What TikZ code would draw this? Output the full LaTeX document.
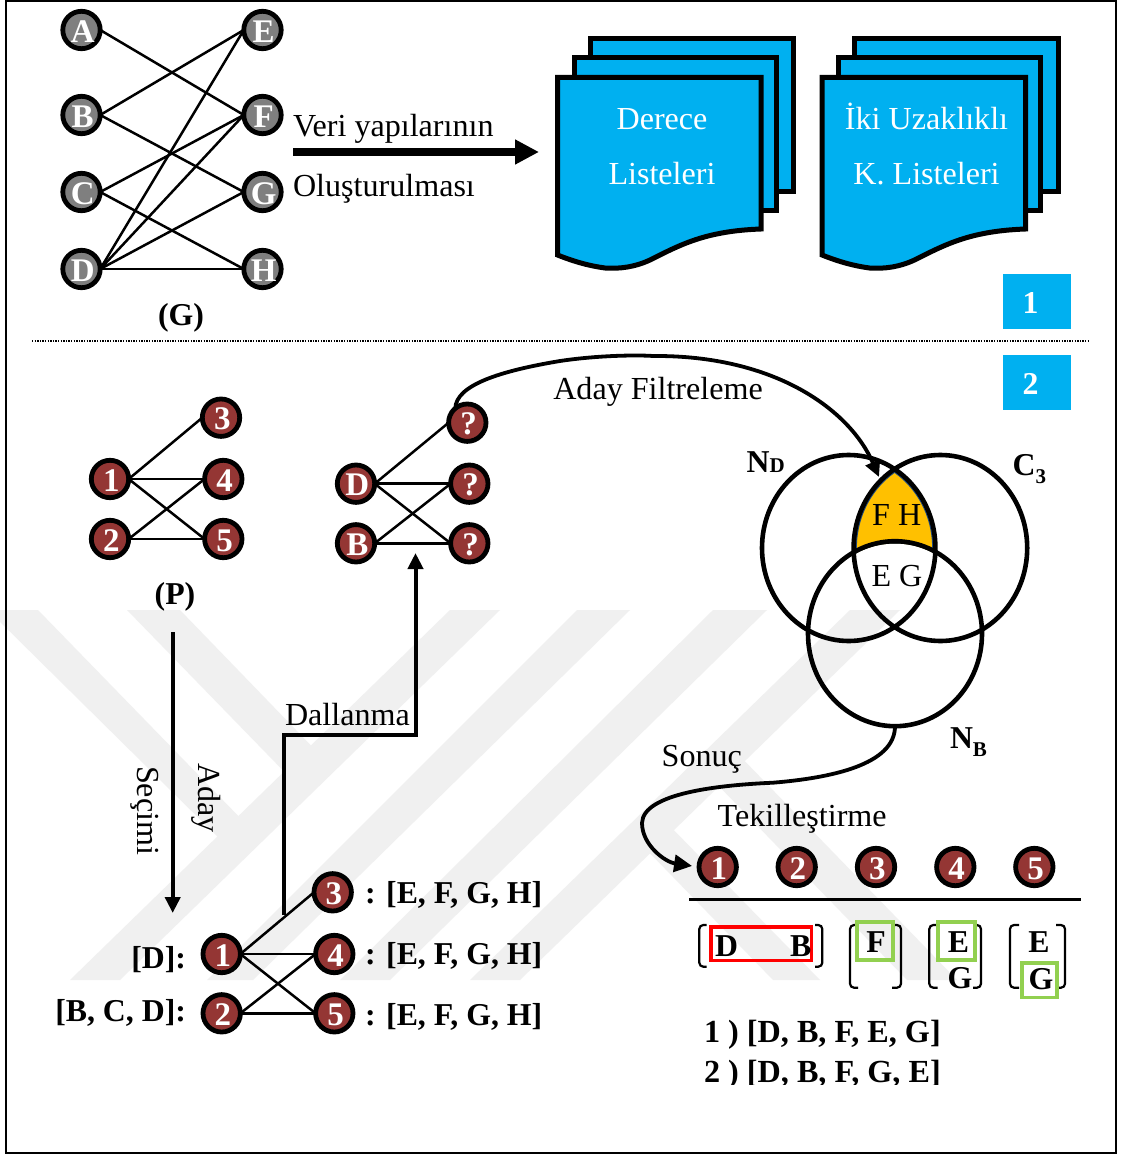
\documentclass[tikz,border=0pt]{standalone}
\usepackage{fontspec}
\setmainfont{Liberation Serif}
\usetikzlibrary{arrows.meta,shapes.geometric}
\definecolor{wm}{HTML}{F0F0F0}
\definecolor{docblue}{HTML}{00B0F0}
\definecolor{nodered}{HTML}{943634}
\definecolor{nodegray}{HTML}{7F7F7F}
\definecolor{orangefill}{HTML}{FFC000}
\definecolor{edgeblue}{HTML}{1F497D}
\definecolor{boxgreen}{HTML}{92D050}
\newcommand{\regf}{\fontsize{32.1}{36}\selectfont}
\newcommand{\bldf}{\fontsize{31.8}{36}\selectfont\bfseries}
\newcommand{\bldg}{\fontsize{32.2}{36}\selectfont\bfseries}
\tikzset{
  x=1pt,y=-1pt,
  vertex/.style={circle,draw=black,line width=4.8pt,minimum size=37.4pt,inner sep=0pt,outer sep=0pt,text=white,font=\fontsize{33}{34}\selectfont\bfseries,text height=24.5pt,text depth=0pt,execute at begin node={\hspace*{2.5pt}}},
  gv/.style={vertex,fill=nodegray},
  rv/.style={vertex,fill=nodered},
  gline/.style={draw=black,line width=2.5pt},
  flow/.style={draw=black,line width=3.8pt},
  head/.style={-{Triangle[length=16pt,width=15pt]}},
  txt/.style={inner sep=0pt,outer sep=0pt,anchor=base west,font=\regf},
  ctxt/.style={inner sep=0pt,outer sep=0pt,anchor=base,font=\regf},
  btxt/.style={inner sep=0pt,outer sep=0pt,anchor=base west,font=\bldf},
  bctxt/.style={inner sep=0pt,outer sep=0pt,anchor=base,font=\bldf},
  etxt/.style={inner sep=0pt,outer sep=0pt,anchor=base east,font=\bldf},
  doc/.style={draw=black,line width=5pt,fill=docblue,line join=miter},
  tag/.style={fill=docblue,inner sep=0pt,outer sep=0pt,minimum width=68pt,minimum height=55pt},
  venn/.style={ellipse,draw=black,line width=4.6pt,inner sep=0pt,outer sep=0pt},
  brk/.style={draw=black,line width=2.2pt,rounded corners=4pt},
  gbox/.style={draw=boxgreen,line width=3.8pt},
}
\begin{document}
\begin{tikzpicture}
\useasboundingbox (0,0) rectangle (1120,1155);
\fill[white] (0,0) rectangle (1120,1155);
% watermark
\begin{scope}
\clip (0,0) rectangle (1120,1155);
\foreach \a/\b/\c/\d in {450/500/120/70, 577/630/253/207, 713/767/390/340, 850/900/520/470}
  \fill[wm] (\a,610) -- (\b,610) -- (\c,980) -- (\d,980) -- cycle;
\fill[wm] (-12,610) -- (38,610) -- (250,828) -- (232,851) -- cycle;
\fill[wm] (127,610) -- (180,610) -- (325,760) -- (302,790) -- cycle;
\fill[wm] (820,980) -- (773,980) -- (640,843) -- (664,820) -- cycle;
\fill[wm] (957,980) -- (907,980) -- (709,776) -- (735,751) -- cycle;
\end{scope}
% frame
\draw[black,line width=2.2pt] (6,1) rectangle (1116,1153);
% graph G
\node[gv] (A) at (81.5,30) {A};
\node[gv] (B) at (81.5,115) {B};
\node[gv] (C) at (81.5,192) {C};
\node[gv] (D) at (81.5,269) {D};
\node[gv] (E) at (262.5,30) {E};
\node[gv] (F) at (262.5,115) {F};
\node[gv] (G) at (262.5,192) {G};
\node[gv] (H) at (262.5,269) {H};
\foreach \p/\q in {A/F,B/E,B/G,C/F,C/H,D/E,D/F,D/G,D/H}
  \draw[gline] (\p.east) -- (\q.west);
\node[bctxt] (gl) at (181,325.5) {(G)};
% big arrow
\coordinate (bs) at (293,152);
\coordinate (be) at (539,152);
\draw[black,line width=7.5pt,-{Triangle[length=24pt,width=23.5pt]}] (bs) -- (be);
\node[txt] (v1) at (293,137) {Veri yapılarının};
\node[txt] (v2) at (293,197) {Oluşturulması};
% documents
\foreach \s in {0,264.5}{
\begin{scope}[xshift=\s pt]
\draw[doc] (590,38.5) rectangle (793.5,191.5);
\draw[doc] (574,58) rectangle (776,210.6);
\draw[doc] (557.5,77.5) -- (761,77.5) -- (761,229) .. controls (705,231) and (680,245) .. (650,260) .. controls (635,267) and (620,269) .. (605,268) .. controls (590,266) and (575,262) .. (557.5,255) -- cycle;
\end{scope}}
\node[ctxt,text=white] (d1) at (662,130) {Derece};
\node[ctxt,text=white] (d2) at (662,185) {Listeleri};
\node[ctxt,text=white] (d3) at (926.5,130) {İki Uzaklıklı};
\node[ctxt,text=white] (d4) at (926.5,185) {K. Listeleri};
% tags
\node[tag] (t1) at (1037,301.5) {};
\node[tag] (t2) at (1037,382.5) {};
\node[bctxt,text=white] (t1l) at (1030.5,313.5) {1};
\node[bctxt,text=white] (t2l) at (1030.5,394.5) {2};
% dotted separator
\coordinate (s1) at (32,341);
\coordinate (s2) at (1088,341);
\draw[black,line width=1.3pt,dash pattern=on 1.3pt off 1.3pt] (s1) -- (s2);
% P
\node[rv] (p3) at (221,417.7) {3};
\node[rv] (p1) at (110,479) {1};
\node[rv] (p4) at (223.3,479) {4};
\node[rv] (p2) at (110,539) {2};
\node[rv] (p5) at (223.3,539) {5};
\foreach \p/\q in {p1/p3,p1/p4,p1/p5,p2/p4,p2/p5}
  \draw[gline] (\p.east) -- (\q.west);
\node[bctxt] (pl) at (175,604.5) {(P)};
% D/B
\node[rv] (qd) at (356,483.7) {D};
\node[rv] (qb) at (356,543.3) {B};
\node[rv] (q1) at (467.3,422.7) {?};
\node[rv] (q2) at (469.3,483.7) {?};
\node[rv] (q3) at (469.3,543.3) {?};
\foreach \p/\q in {qd/q1,qd/q2,qd/q3,qb/q2,qb/q3}
  \draw[gline] (\p.east) -- (\q.west);
% lower graph
\node[rv] (l3) at (332.7,892.3) {3};
\node[rv] (l1) at (221.7,954) {1};
\node[rv] (l4) at (334.3,954) {4};
\node[rv] (l2) at (221.7,1013.3) {2};
\node[rv] (l5) at (334.3,1013.3) {5};
\foreach \p/\q in {l1/l3,l1/l4,l1/l5,l2/l4,l2/l5}
  \draw[gline] (\p.east) -- (\q.west);
\node[etxt] (ld) at (186,968) {[D]:};
\node[etxt] (lb) at (186,1021) {[B, C, D]:};
\node[btxt] (r3) at (365,903) {: [E, F, G, H]};
\node[btxt] (r4) at (365,964) {: [E, F, G, H]};
\node[btxt] (r5) at (365,1025) {: [E, F, G, H]};
% Aday Secimi arrow
\coordinate (as) at (172.7,632);
\coordinate (ae) at (172.7,913);
\draw[black,line width=4pt,head] (as) -- (ae);
\node[txt,rotate=-90] (a1) at (198,763) {Aday};
\node[txt,rotate=-90] (a2) at (137.5,766) {Seçimi};
% Dallanma
\coordinate (ds) at (284,915);
\coordinate (de) at (415.5,553);
\draw[black,line width=4pt,head] (ds) -- (284,735) -- (415.5,735) -- (de);
\node[txt] (dl) at (285,725) {Dallanma};
% Venn fill
\begin{scope}
\clip (848.7,548) ellipse [x radius=86.7pt,y radius=93pt];
\clip (940.4,548) ellipse [x radius=86.8pt,y radius=93pt];
\clip (800,440) -- (990,440) -- (990,636) -- (982,636) arc[start angle=0,end angle=180,x radius=87pt,y radius=92.5pt] -- (800,636) -- cycle;
\fill[orangefill] (800,440) rectangle (990,640);
\draw[edgeblue,line width=6.5pt] (848.7,548) ellipse [x radius=86.7pt,y radius=93pt];
\draw[edgeblue,line width=6.5pt] (940.4,548) ellipse [x radius=86.8pt,y radius=93pt];
\draw[edgeblue,line width=3pt] (895,636) ellipse [x radius=87pt,y radius=92.5pt];
\end{scope}
\node[venn,minimum width=173.4pt,minimum height=186pt] (nd) at (848.7,548) {};
\node[venn,minimum width=173.6pt,minimum height=186pt] (c3) at (940.4,548) {};
\node[venn,minimum width=174pt,minimum height=185pt] (nb) at (895,633.7) {};
\node[ctxt] (fh) at (896.7,525) {F H};
\node[ctxt] (eg) at (897,586.5) {E G};
\node[btxt] (ndl) at (746.7,472.3) {N{\fontsize{21}{24}\selectfont D}};
\node[btxt] (c3l) at (1012.7,475) {C{\raisebox{-8pt}{\fontsize{21}{24}\selectfont 3}}};
\node[btxt] (nbl) at (950,748.3) {N{\raisebox{-8pt}{\fontsize{21}{24}\selectfont B}}};
% Aday Filtreleme curve
\coordinate (ft) at (879,477);
\draw[flow,head] (q1.130) .. controls (456,385) and (500,371) .. (560,361) .. controls (600,355) and (640,355) .. (653,356) .. controls (775,355) and (850,410) .. (ft);
\node[txt] (fl) at (553.3,399.3) {Aday Filtreleme};
% result row
\node[rv] (n1) at (717.7,867) {1};
\node[rv] (n2) at (796.7,867) {2};
\node[rv] (n3) at (876,867) {3};
\node[rv] (n4) at (955.3,867) {4};
\node[rv] (n5) at (1034.3,867) {5};
\draw[flow,-{Triangle[length=18pt,width=17pt]},shorten >=7pt] (nb.south) .. controls (895,765) and (830,778) .. (773,782.7) .. controls (720,785) and (643,793) .. (642,823) .. controls (642,845) and (665,862) .. (n1.west);
\node[txt] (so) at (661.7,766) {Sonuç};
\node[txt] (te) at (717.7,826.5) {Tekilleştirme};
\coordinate (h1) at (689,899);
\coordinate (h2) at (1080.7,899);
\draw[black,line width=3pt] (h1) -- (h2);
% brackets
\draw[brk] (706.7,925) -- (699.3,925) -- (699.3,966.7) -- (706.7,966.7);
\draw[brk] (815,925) -- (822.3,925) -- (822.3,966.7) -- (815,966.7);
\draw[brk] (858,925) -- (850,925) -- (850,987.7) -- (858,987.7);
\draw[brk] (892,925) -- (901,925) -- (901,987.7) -- (892,987.7);
\draw[brk] (937.7,925) -- (929.3,925) -- (929.3,987.7) -- (937.7,987.7);
\draw[brk] (973,925) -- (981,925) -- (981,987.7) -- (973,987.7);
\draw[brk] (1019,925) -- (1010,925) -- (1010,987.7) -- (1019,987.7);
\draw[brk] (1056,925) -- (1065,925) -- (1065,987.7) -- (1056,987.7);
% highlight boxes
\draw[red,line width=3.8pt] (710.7,926.7) rectangle (811.5,960.5);
\draw[gbox] (857,922) rectangle (893,960);
\draw[gbox] (938,922) rectangle (975,960);
\draw[gbox] (1022,963) rectangle (1057,997.5);
% bracket contents
\node[btxt] (m1) at (715,956.5) {D};
\node[btxt] (m2) at (790,956.5) {B};
\node[bctxt] (m3) at (876,952.8) {F};
\node[bctxt] (m4) at (958.5,952.8) {E};
\node[bctxt] (m5) at (960,988) {G};
\node[bctxt] (m6) at (1039,952.5) {E};
\node[bctxt] (m7) at (1041,989.5) {G};
% results
\node[btxt,font=\bldg] (o1) at (704,1042) {1 ) [D, B, F, E, G]};
\begin{scope}
\clip (690,1050) rectangle (960,1084);
\node[btxt,font=\bldg] (o2) at (704,1082) {2 ) [D, B, F, G, E]};
\end{scope}
\end{tikzpicture}
\end{document}
